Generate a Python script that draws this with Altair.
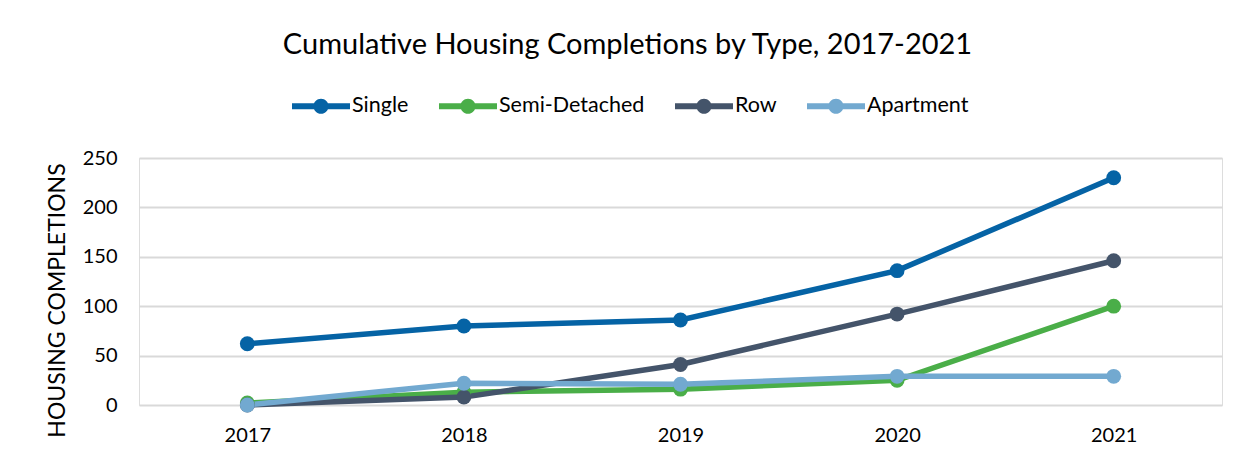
import altair as alt
import pandas as pd

years = ["2017", "2018", "2019", "2020", "2021"]
series = ["Single", "Semi-Detached", "Row", "Apartment"]
single = [62, 80, 86, 136, 230]
semi_detached = [2, 13, 16, 25, 100]
row = [0, 8, 41, 92, 146]
apartment = [0, 22, 21, 29, 29]
colors = ["#0563a5", "#4aae48", "#44546a", "#72a9d0"]

values = [single, semi_detached, row, apartment]
rows = []
for s, vals in zip(series, values):
    for y, v in zip(years, vals):
        rows.append({"Year": y, "Type": s, "Completions": v})
df = pd.DataFrame(rows)

FONT = "Lato"
legend_path = ("M-1,-0.1 L1,-0.1 L1,0.1 L-1,0.1 Z "
               "M0.26,0 A0.26,0.26 0 1,1 -0.26,0 A0.26,0.26 0 1,1 0.26,0 Z")

color = alt.Color(
    "Type:N",
    sort=series,
    scale=alt.Scale(domain=series, range=colors),
    legend=alt.Legend(
        title=None,
        orient="none",
        direction="horizontal",
        legendX=153,
        legendY=-81,
        symbolType=legend_path,
        symbolSize=3364,
        symbolStrokeWidth=0,
        symbolOpacity=1,
        labelFont=FONT,
        labelFontSize=21.5,
        labelColor="#000000",
        labelOffset=2,
        columnPadding=30,
    ),
)

x = alt.X(
    "Year:O",
    sort=years,
    scale=alt.Scale(type="point", padding=0.5),
    axis=alt.Axis(
        title=None,
        labelAngle=0,
        labelFont=FONT,
        labelFontSize=20,
        labelColor="#000000",
        labelPadding=20,
        ticks=False,
        domain=False,
        grid=False,
    ),
)
y = alt.Y(
    "Completions:Q",
    scale=alt.Scale(domain=[0, 250], nice=False),
    axis=alt.Axis(
        title="HOUSING COMPLETIONS",
        titleFont=FONT,
        titleFontSize=23,
        titleFontWeight="normal",
        titleColor="#000000",
        titleX=-82,
        titleY=142,
        titleBaseline="middle",
        titleAngle=270,
        values=[0, 50, 100, 150, 200, 250],
        labelFont=FONT,
        labelFontSize=20,
        labelColor="#000000",
        labelPadding=22,
        ticks=False,
        domain=False,
        grid=True,
        gridColor="#d9d9d9",
        gridWidth=2,
    ),
)

base = alt.Chart(df)
lines = base.mark_line(strokeWidth=5.5).encode(
    x=x, y=y, color=color, detail="Type:N",
)
points = base.mark_point(filled=True, size=220, opacity=1).encode(
    x=x, y=y, color=color,
)

chart = (
    alt.layer(lines, points)
    .properties(
        width=1083,
        height=247,
        autosize=alt.AutoSizeParams(type="none"),
        padding={"left": 131, "top": 150, "right": 14, "bottom": 48},
        title=alt.TitleParams(
            "Cumulative Housing Completions by Type, 2017-2021",
            font=FONT,
            fontSize=29,
            fontWeight="normal",
            color="#000000",
            anchor="middle",
            frame="group",
            offset=17,
            dx=-53,
        ),
    )
    .configure_view(stroke=None)
    .configure(background="#ffffff")
)

chart.save("out.html", embed_options={"renderer": "svg", "actions": False})
